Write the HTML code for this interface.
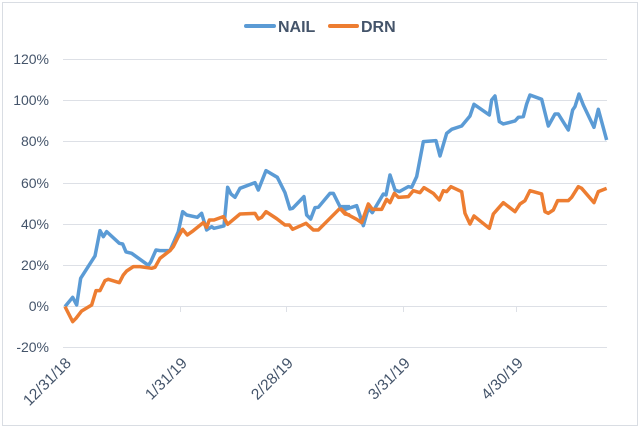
<!DOCTYPE html>
<html><head><meta charset="utf-8"><style>
html,body{margin:0;padding:0;background:#fff}
svg{display:block}
text{font-family:"Liberation Sans",sans-serif;fill:#44546a}
</style></head><body>
<svg width="640" height="428" viewBox="0 0 640 428">
<rect x="2.5" y="2.5" width="635" height="423" fill="#fff" stroke="#d9dde3"/>
<g stroke="#dde0e6" stroke-width="1">
<line x1="63" x2="607" y1="59.5" y2="59.5"/>
<line x1="63" x2="607" y1="100.5" y2="100.5"/>
<line x1="63" x2="607" y1="141.5" y2="141.5"/>
<line x1="63" x2="607" y1="183.5" y2="183.5"/>
<line x1="63" x2="607" y1="224.5" y2="224.5"/>
<line x1="63" x2="607" y1="265.5" y2="265.5"/>
<line x1="63" x2="607" y1="306.5" y2="306.5"/>
<line x1="63" x2="607" y1="347.5" y2="347.5"/>
<line x1="180.5" x2="180.5" y1="306" y2="312"/>
<line x1="286.5" x2="286.5" y1="306" y2="312"/>
<line x1="403.5" x2="403.5" y1="306" y2="312"/>
<line x1="516.5" x2="516.5" y1="306" y2="312"/>
</g>
<g font-size="14" text-anchor="end">
<text x="49" y="64">120%</text>
<text x="49" y="105">100%</text>
<text x="49" y="146">80%</text>
<text x="49" y="188">60%</text>
<text x="49" y="229">40%</text>
<text x="49" y="270">20%</text>
<text x="49" y="311">0%</text>
<text x="49" y="352">-20%</text>
</g>
<g font-size="15.5" text-anchor="end">
<text transform="translate(72,364) rotate(-45)">12/31/18</text>
<text transform="translate(188,364) rotate(-45)">1/31/19</text>
<text transform="translate(294,364) rotate(-45)">2/28/19</text>
<text transform="translate(411,364) rotate(-45)">3/31/19</text>
<text transform="translate(524,364) rotate(-45)">4/30/19</text>
</g>
<line x1="246" x2="274" y1="26" y2="26" stroke="#5b9bd5" stroke-width="4" stroke-linecap="round"/>
<text x="278" y="32" font-size="16" font-weight="bold">NAIL</text>
<line x1="330" x2="357" y1="26" y2="26" stroke="#ed7d31" stroke-width="4" stroke-linecap="round"/>
<text x="361" y="32" font-size="16" font-weight="bold">DRN</text>
<g fill="none" stroke-width="10.5" stroke-linejoin="round">
<g transform="translate(60,40) scale(0.3333)">
<polyline stroke="#5b9bd5" points="15,800 38,772 50,795 62,715 105,648 120,572 130,590 140,575 178,610 188,612 198,636 215,640 265,676 272,666 288,630 300,632 330,632 355,575 368,515 380,525 412,532 425,520 440,570 455,560 462,565 492,558 503,442 513,462 525,472 540,445 585,428 595,450 618,392 652,412 675,458 690,507 698,505 732,470 740,525 752,537 765,503 775,502 810,460 820,460 840,500 870,500"/>
<polyline stroke="#ed7d31" points="15,800 38,845 48,835 65,813 95,795 108,752 120,752 135,722 145,718 178,728 190,705 200,693 220,680 240,680 275,685 285,682 300,655 330,632 340,620 355,590 368,568 382,585 400,572 430,548 440,562 448,540 462,540 490,530 503,553 540,522 585,520 595,537 605,532 618,515 650,536 675,555 688,555 698,568 738,550 760,570 775,570 810,535 840,505 855,522 870,525"/>
</g>
<g transform="translate(340,40) scale(0.3333)">
<polyline stroke="#5b9bd5" points="0,500 10,510 50,497 70,557 85,505 97,518 130,462 138,465 150,405 165,450 178,455 205,440 215,442 230,410 250,305 288,302 300,348 320,280 335,268 365,258 380,240 390,228 402,193 448,225 455,180 465,168 478,245 490,252 525,243 535,232 550,230 560,192 570,165 605,178 625,258 645,222 655,222 685,270 698,210 705,200 717,162 730,195 762,262 775,208 800,300"/>
<polyline stroke="#ed7d31" points="0,505 20,522 50,538 65,548 85,492 97,508 125,508 140,478 150,488 163,460 175,472 205,470 220,452 240,458 252,443 280,460 298,480 310,452 320,455 333,440 365,455 375,520 390,552 402,528 448,565 460,522 475,505 490,488 525,515 540,492 555,482 570,452 605,462 615,515 625,520 640,510 653,482 685,482 695,472 715,440 725,445 762,488 775,455 800,445"/>
</g>
</g>
</svg>
</body></html>
